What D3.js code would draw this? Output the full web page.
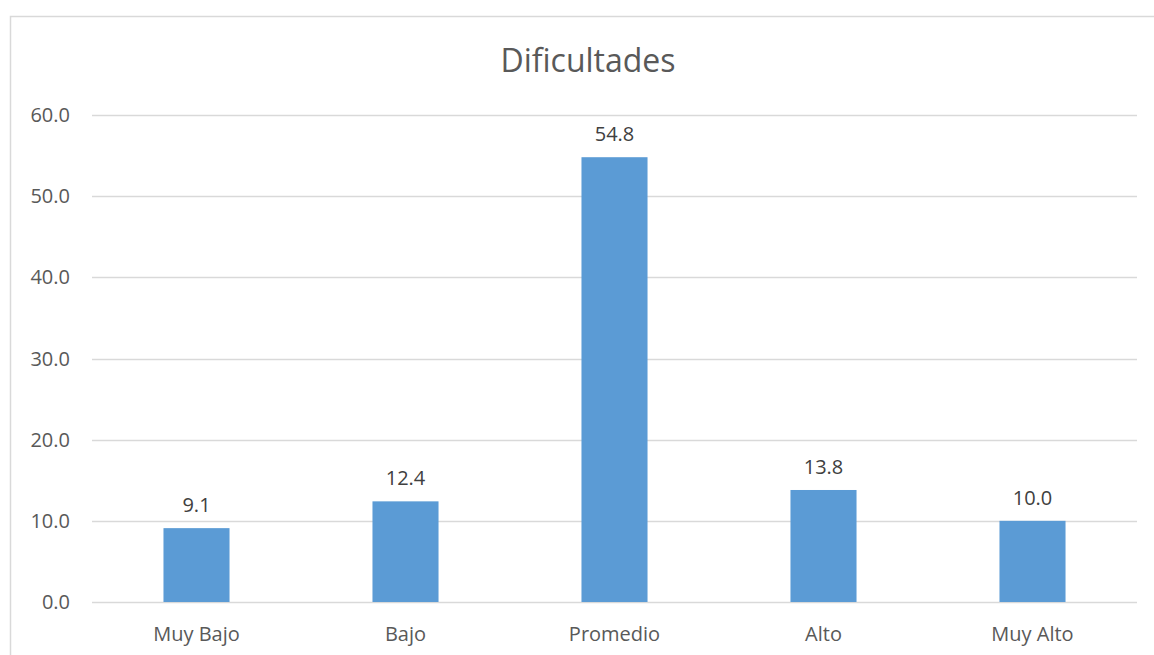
<!DOCTYPE html>
<html>
<head>
<meta charset="utf-8">
<script src="https://cdn.jsdelivr.net/npm/d3@7"></script>
<style>
  body { margin: 0; background: #fff; }
  text { font-family: "Open Sans", "Noto Sans", sans-serif; }
</style>
</head>
<body>
<div id="chart"></div>
<script>
const categories = ["Muy Bajo", "Bajo", "Promedio", "Alto", "Muy Alto"];
const values = [9.1, 12.4, 54.8, 13.8, 10.0];
const yTicks = [0, 10, 20, 30, 40, 50, 60];
const title = "Dificultades";

const width = 1154, height = 655;
const margin = {top: 115, right: 17, bottom: 53, left: 92};

let svg = d3.select("#chart")
  .append("svg")
  .attr("width", width)
  .attr("height", height);

// chart border (runs off right and bottom edge)
svg.append("rect")
  .attr("x", 10.5)
  .attr("y", 16.5)
  .attr("width", 1200)
  .attr("height", 700)
  .attr("fill", "none")
  .attr("stroke", "#d9d9d9")
  .attr("stroke-width", 1.5);

let x = d3.scaleBand()
  .domain(categories)
  .range([margin.left, width - margin.right])
  .paddingInner(0.684)
  .paddingOuter(0.342);

let y = d3.scaleLinear()
  .domain([0, 60])
  .range([height - margin.bottom, margin.top]);

// gridlines
svg.append("g")
  .selectAll("line")
  .data(yTicks)
  .enter().append("line")
  .attr("x1", margin.left)
  .attr("x2", width - margin.right)
  .attr("y1", d => Math.round(y(d)) + 0.5)
  .attr("y2", d => Math.round(y(d)) + 0.5)
  .attr("stroke", "#d9d9d9")
  .attr("stroke-width", 1.3);

// y tick labels
svg.append("g")
  .selectAll("text")
  .data(yTicks)
  .enter().append("text")
  .attr("x", 70)
  .attr("y", d => y(d))
  .attr("dy", "0.35em")
  .attr("text-anchor", "end")
  .attr("font-size", 20)
  .attr("fill", "#595959")
  .text(d => d.toFixed(1));

// bars
svg.append("g")
  .selectAll("rect")
  .data(values)
  .enter().append("rect")
  .attr("x", (d, i) => x(categories[i]))
  .attr("y", d => y(d))
  .attr("width", x.bandwidth())
  .attr("height", d => y(0) - y(d))
  .attr("fill", "#5b9bd5");

// data labels
svg.append("g")
  .selectAll("text")
  .data(values)
  .enter().append("text")
  .attr("x", (d, i) => x(categories[i]) + x.bandwidth() / 2)
  .attr("y", d => y(d) - 16)
  .attr("text-anchor", "middle")
  .attr("font-size", 20)
  .attr("fill", "#404040")
  .text(d => d.toFixed(1));

// x labels
svg.append("g")
  .selectAll("text")
  .data(categories)
  .enter().append("text")
  .attr("x", d => x(d) + x.bandwidth() / 2)
  .attr("y", height - margin.bottom + 39)
  .attr("text-anchor", "middle")
  .attr("font-size", 20)
  .attr("fill", "#595959")
  .text(d => d);

// title
svg.append("text")
  .attr("x", 588)
  .attr("y", 72)
  .attr("text-anchor", "middle")
  .attr("font-size", 32)
  .attr("fill", "#595959")
  .text(title);
</script>
</body>
</html>
